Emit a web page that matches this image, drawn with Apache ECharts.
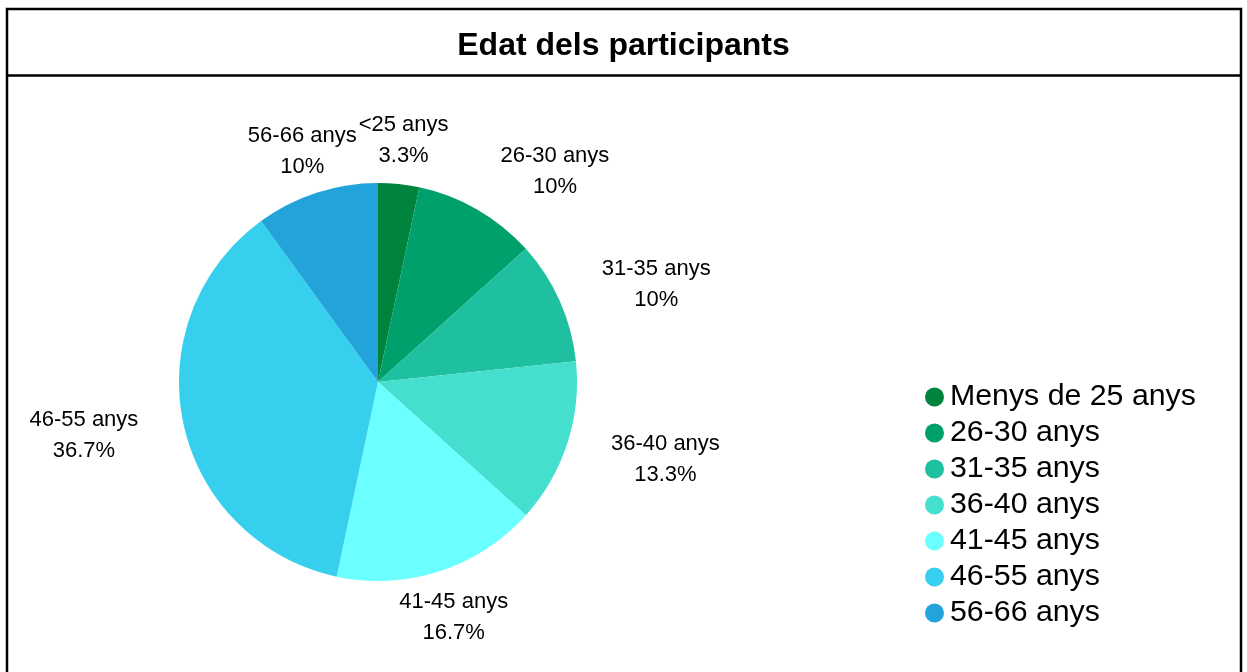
<!DOCTYPE html>
<html>
<head>
<meta charset="utf-8">
<script src="https://cdn.jsdelivr.net/npm/echarts@6/dist/echarts.min.js"></script>
<style>
html,body{margin:0;padding:0;background:#fff;}
#main{width:1247px;height:672px;}
</style>
</head>
<body>
<div id="main"></div>
<script>
var categories = ['Menys de 25 anys','26-30 anys','31-35 anys','36-40 anys','41-45 anys','46-55 anys','56-66 anys'];
var shortLabels = ['<25 anys','26-30 anys','31-35 anys','36-40 anys','41-45 anys','46-55 anys','56-66 anys'];
var values = [1, 3, 3, 4, 5, 11, 3];
var colors = ['#00833C','#00A06D','#1FC0A0','#45DFD0','#6CFFFF','#36CFEE','#22A3DA'];

var total = values.reduce(function(a,b){return a+b;},0);
var midAngles = [];
(function(){
  var acc = 0;
  for (var i=0;i<values.length;i++){
    midAngles.push((acc + values[i]/2)/total*2*Math.PI);
    acc += values[i];
  }
})();

var chart = echarts.init(document.getElementById('main'));
var font = 'Liberation Sans, Arial, sans-serif';
chart.setOption({
  animation: false,
  color: colors,
  graphic: [
    {type:'rect', shape:{x:7, y:9, width:1234, height:700}, style:{fill:'none', stroke:'#000', lineWidth:2.5}, silent:true},
    {type:'line', shape:{x1:7, y1:75.5, x2:1241, y2:75.5}, style:{stroke:'#000', lineWidth:2.5}, silent:true}
  ],
  title: {
    text: 'Edat dels participants',
    left: 'center',
    top: 25,
    textStyle: {fontFamily: font, fontSize: 32, fontWeight: 'bold', color:'#000'}
  },
  legend: {
    orient: 'vertical',
    left: 920,
    top: 377,
    padding: 5,
    icon: 'circle',
    itemWidth: 19,
    itemHeight: 19,
    itemGap: 6,
    data: categories,
    textStyle: {fontFamily: font, fontSize: 30.3, color:'#000', lineHeight: 30, padding:[0,0,0,1]}
  },
  series: [{
    type: 'pie',
    center: [378, 382],
    radius: 199,
    startAngle: 90,
    clockwise: true,
    avoidLabelOverlap: false,
    percentPrecision: 1,
    itemStyle: {borderWidth: 0},
    label: {
      show: true,
      position: 'outer',
      alignTo: 'none',
      distanceToLabelLine: 0,
      fontFamily: font,
      fontSize: 22,
      lineHeight: 31,
      color: '#000',
      formatter: function(p){ return shortLabels[p.dataIndex] + '\n' + p.percent + '%'; }
    },
    labelLine: {show: false, length: 46, length2: 0},
    labelLayout: function(p){
      var a = midAngles[p.dataIndex];
      var s = Math.sin(a);
      var w = p.labelRect.width;
      if (Math.abs(s) < 0.45) return {align: 'center', dy: 2};
      return {align: 'center', dx: (s > 0 ? 1 : -1) * w / 2, dy: 2};
    },
    emphasis: {disabled: true},
    data: categories.map(function(c,i){ return {name: c, value: values[i]}; })
  }]
});
</script>
</body>
</html>
